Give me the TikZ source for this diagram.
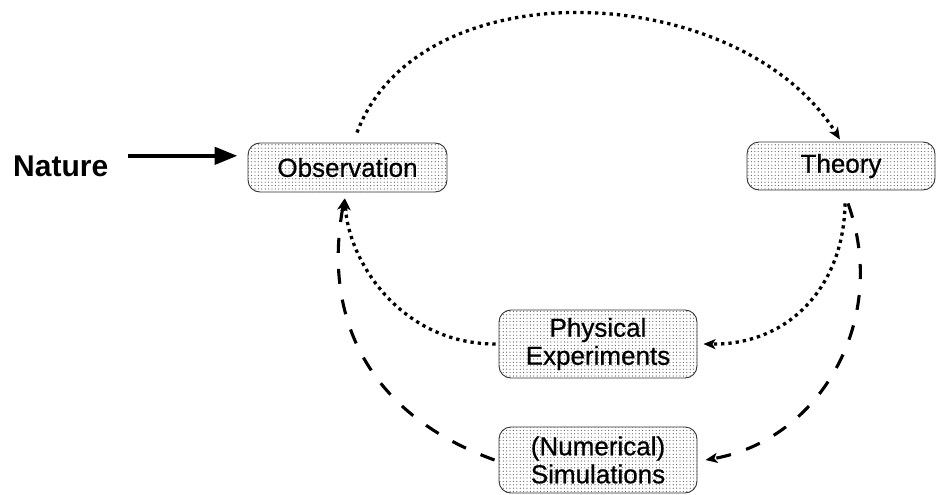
\documentclass[tikz,border=0pt]{standalone}
\usepackage{fontspec}
\setmainfont{Liberation Sans}
\newfontfamily\stagefont[FakeBold=0.6]{Liberation Sans}
\usetikzlibrary{arrows.meta,patterns}

% fine grey dot screen used inside the boxes
\pgfdeclarepatternformonly{boxdots}{\pgfqpoint{-1pt}{-1pt}}{\pgfqpoint{1pt}{1pt}}{\pgfqpoint{3.4pt}{3.4pt}}{%
  \pgfpathcircle{\pgfqpoint{0pt}{0pt}}{0.6pt}\pgfusepath{fill}}

\tikzset{
  stage/.style={draw=black!80, line width=0.9pt, rounded corners=12pt,
    pattern=boxdots, pattern color=black!65, align=center,
    font=\stagefont\fontsize{26}{28}\selectfont, inner sep=0pt},
  dotline/.style={line width=3.3pt, dash pattern=on 3.3pt off 4pt,
    -{Stealth[length=12pt,width=10pt,inset=3pt]}},
  dashline/.style={line width=3.1pt, dash pattern=on 15pt off 16pt,
    -{Stealth[length=12pt,width=10pt,inset=3pt]}},
  natarrow/.style={line width=4.5pt, -{Triangle[length=23pt,width=17pt]}}
}

\begin{document}
\begin{tikzpicture}[x=1pt,y=-1pt]
  \useasboundingbox (0,0) rectangle (937,495);

  % stages of the cycle
  \node[stage, minimum width=199pt, minimum height=49pt] (obs) at (347.5,167.5) {Observation};
  \node[stage, minimum width=188pt, minimum height=48pt] (theory) at (841,166) {Theory};
  \node[stage, minimum width=198pt, minimum height=68pt] (phys) at (598,344) {Physical\\Experiments};
  \node[stage, minimum width=198pt, minimum height=66pt] (sim) at (598,460) {(Numerical)\\Simulations};

  % source
  \node[anchor=base west, inner sep=0pt, font=\fontsize{30}{30}\selectfont\bfseries] (nature) at (13,176) {Nature};
  \draw[natarrow, shorten <=20pt, shorten >=10pt] ([yshift=10pt]nature.east) -- ([yshift=10pt]nature.east -| obs.west);

  % observation to theory
  \draw[dotline] ([xshift=9.5pt,yshift=10pt]obs.north) .. controls (420,-35) and (740,-20) .. ([xshift=-1pt,yshift=2pt]theory.north);

  % theory to experiments and simulations
  \draw[dotline] ([xshift=4pt,yshift=-13pt]theory.south) .. controls (844,285) and (790,345) .. ([xshift=6pt]phys.east);
  \draw[dashline] ([xshift=7pt,yshift=-13pt]theory.south) .. controls (890,320) and (820,440) .. ([xshift=8pt]sim.east);

  % back to observation
  \draw[dotline] ([xshift=-3pt]phys.west) .. controls (400,344) and (348,260) .. ([xshift=-2.5pt,yshift=-6pt]obs.south);
  \draw[dashline] ([xshift=-4pt]sim.west) .. controls (370,415) and (322,320) .. ([xshift=-3pt,yshift=-6pt]obs.south);
\end{tikzpicture}
\end{document}
